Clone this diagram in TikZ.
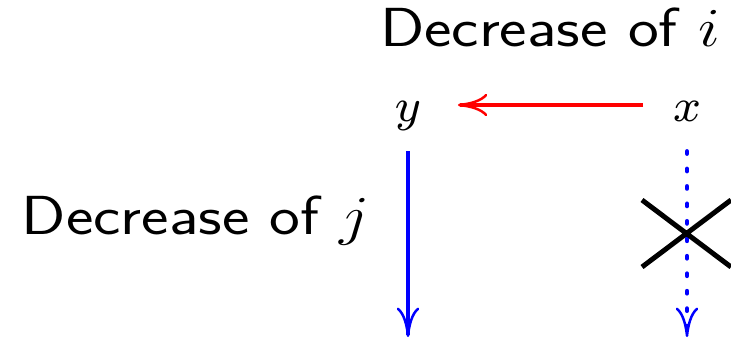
\documentclass[tikz,border=0pt]{standalone}
\usepackage{tikz}
\usetikzlibrary{arrows.meta, positioning}
\newcommand{\bigtxt}[1]{\scalebox{2.58}{\footnotesize #1}}
\newcommand{\widetxt}[1]{\scalebox{1.39}[1.17]{\huge\sffamily #1}}

\begin{document}
\begin{tikzpicture}[
  x=0.441pt, y=0.441pt,
  lbl/.style={inner sep=0pt, anchor=base},
  var/.style={inner sep=0pt, text height=14.5pt, text depth=0pt},
  arr/.style={line width=2pt, shorten <=13pt},
  >={Computer Modern Rightarrow[length=13pt, width=10pt, line width=1.1pt]}
]
\useasboundingbox (0,0) rectangle (731,339);
\node[var] (y) at (408,234) {\bigtxt{$y$}};
\node[var] (x) at (687,234) {\bigtxt{$x$}};
\node[lbl] (deci) at (550,292) {\widetxt{Decrease of $i$}};
\node[lbl] (decj) at (196,105) {\widetxt{Decrease of $j$}};
\coordinate (ybot) at (408,2);
\coordinate (xbot) at (687,2);

\draw[->, arr, red, shorten >=16pt] (x) -- (y);
\draw[->, arr, blue] (y) -- (ybot);
\draw[->, arr, blue, line cap=round, dash pattern=on 1pt off 6.7pt] (x) -- (xbot);
% crossed out
\draw[line width=2.2pt] (642,139) -- (731,72) (642,72) -- (731,139);
\end{tikzpicture}
\end{document}
